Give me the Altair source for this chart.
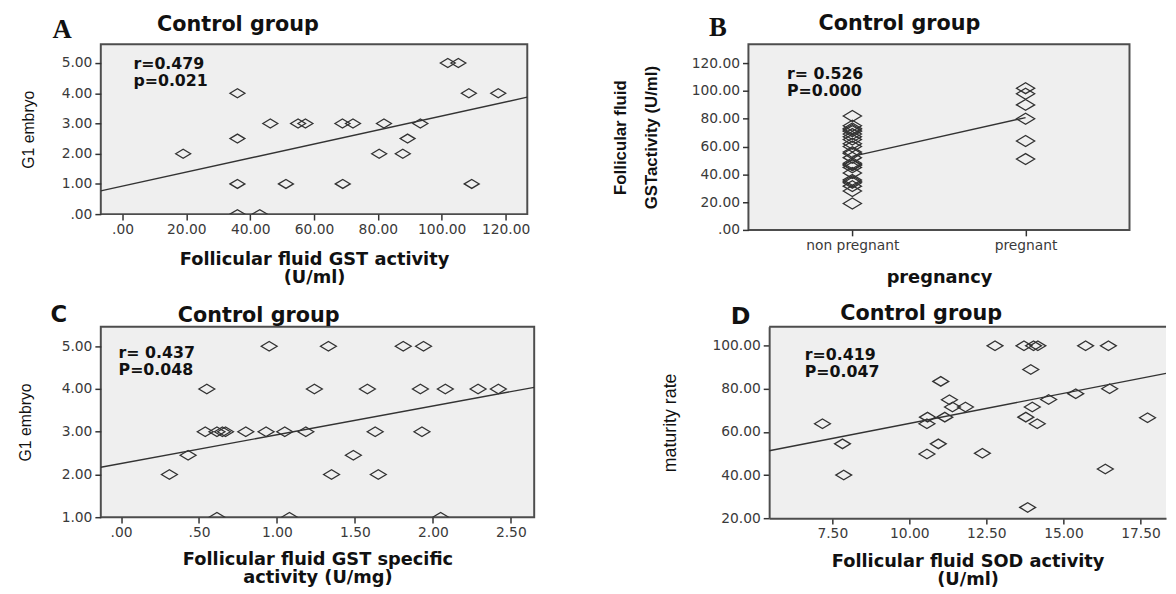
import altair as alt
import pandas as pd

# ---------------- data ----------------
A_X = [19, 36, 36, 36, 36, 43, 46.3, 51.2, 55, 57.3, 68.9, 72.2, 69, 80.4, 81.9,
       87.8, 89.3, 93.3, 101.9, 105.2, 108.5, 109.4, 117.7]
A_Y = [2, 4, 2.5, 1, 0, 0, 3, 1, 3, 3, 3, 3, 1, 2, 3, 2, 2.5, 3, 5, 5, 4, 1, 4]
A_FIT_X = [-6.8, 126.8]
A_FIT_Y = [0.77, 3.87]
A_XTICKS = [0, 20, 40, 60, 80, 100, 120]
A_YTICKS = [0, 1, 2, 3, 4, 5]
A_ANNOT = "r=0.479\np=0.021"

B_CATS = ["non pregnant", "pregnant"]
B_NONPREG = [82, 75, 73, 72, 71, 69, 67, 65, 62, 60, 56, 55, 52, 48, 47, 46.5,
             45, 41, 36, 35, 34, 31.5, 28, 19]
B_PREG = [102, 98, 90, 80, 64, 51]
B_YTICKS = [0, 20, 40, 60, 80, 100, 120]
B_ANNOT = "r= 0.526\nP=0.000"

C_X = [0.31, 0.43, 0.55, 0.54, 0.615, 0.65, 0.67, 0.80, 0.93, 1.05, 1.185, 0.95,
       1.33, 1.24, 1.58, 1.49, 1.35, 1.63, 1.65, 1.81, 1.94, 1.92, 2.08, 2.29,
       2.42, 1.93, 0.615, 1.08, 2.05]
C_Y = [2, 2.45, 4, 3, 3, 3, 3, 3, 3, 3, 3, 5, 5, 4, 4, 2.45, 2, 3, 2, 5, 5, 4,
       4, 4, 4, 3, 1, 1, 1]
C_FIT_X = [-0.13, 2.65]
C_FIT_Y = [2.17, 4.04]
C_XTICKS = [0, 0.5, 1, 1.5, 2, 2.5]
C_YTICKS = [1, 2, 3, 4, 5]
C_ANNOT = "r= 0.437\nP=0.048"

D_X = [7.18, 7.83, 7.87, 10.59, 10.57, 10.57, 10.94, 11.02, 11.3, 11.15, 11.4,
       11.82, 12.37, 12.78, 13.72, 14.03, 14.17, 13.94, 13.78, 13.99, 14.15,
       13.84, 14.52, 15.4, 15.72, 16.46, 16.5, 16.36, 17.73]
D_Y = [63.8, 54.5, 40, 66.9, 63.8, 49.8, 54.5, 83.5, 75, 66.9, 71.6, 71.6, 50.1,
       100, 100, 100, 100, 89, 66.9, 71.6, 63.8, 25, 75.1, 77.8, 100, 100, 80.1,
       42.8, 66.6]
D_FIT_X = [5.45, 18.33]
D_FIT_Y = [51.3, 87.2]
D_XTICKS = [7.5, 10, 12.5, 15, 17.5]
D_YTICKS = [20, 40, 60, 80, 100]
D_ANNOT = "r=0.419\nP=0.047"

TITLE = "Control group"

# ---------------- styling ----------------
DIAMOND = "M-1,0L0,-0.6L1,0L0,0.6Z"
INK = "#333333"
BORDER = "#4d4d4d"
LABEL_EXPR = ("abs(datum.value) < 1 ? slice(format(datum.value, '.2f'), 1) "
              ": format(datum.value, '.2f')")


def xq_axis(values, title, w, ty, lh, domain=False):
    return alt.Axis(values=values, labelExpr=LABEL_EXPR, title=title,
                    titleX=w / 2, titleY=ty, titleAlign="center",
                    titleBaseline="top", titleLineHeight=lh, titleAngle=0,
                    labelOverlap=False, domain=domain, domainColor=BORDER,
                    domainWidth=2)


def y_axis(values, title, h, tx, size, weight="normal", lh=20, domain=False):
    return alt.Axis(values=values, labelExpr=LABEL_EXPR, title=title,
                    titleX=tx, titleY=h / 2, titleAlign="center",
                    titleBaseline="bottom", titleAngle=-90,
                    titleFontSize=size, titleFontWeight=weight,
                    titleLineHeight=lh, labelOverlap=False, domain=domain,
                    domainColor=BORDER, domainWidth=2)


def text_layer(s, x, y, font, size, weight="bold", lh=17):
    return alt.Chart(pd.DataFrame({"t": [s]})).mark_text(
        font=font, fontSize=size, fontWeight=weight, align="left",
        baseline="alphabetic", color="#111111", lineBreak="\n", lineHeight=lh
    ).encode(text="t:N", x=alt.value(x), y=alt.value(y))


def scatter_layers(xs, ys, fx, fy, xdom, ydom, xt, yt, xtitle, ytitle,
                   w, h, x_ty, x_lh, y_tx, y_size, letter, letter_font,
                   letter_size, letter_pos, title_pos, annot, annot_pos,
                   size=260, domains=False):
    df = pd.DataFrame({"x": xs, "y": ys})
    fit = pd.DataFrame({"x": fx, "y": fy})
    X = alt.X("x:Q", scale=alt.Scale(domain=xdom, nice=False, zero=False),
              axis=xq_axis(xt, xtitle, w, x_ty, x_lh, domains))
    Y = alt.Y("y:Q", scale=alt.Scale(domain=ydom, nice=False, zero=False),
              axis=y_axis(yt, ytitle, h, y_tx, y_size, domain=domains))
    pts = alt.Chart(df).mark_point(
        shape=DIAMOND, size=size, filled=False, color=INK, strokeWidth=1.3,
        opacity=1, clip=True).encode(x=X, y=Y)
    line = alt.Chart(fit).mark_line(color=INK, strokeWidth=1.4, clip=True).encode(
        x=X, y=Y)
    return [
        pts, line,
        text_layer(letter, letter_pos[0], letter_pos[1], letter_font, letter_size),
        text_layer(TITLE, title_pos[0], title_pos[1], "DejaVu Sans", 21),
        text_layer(annot, annot_pos[0], annot_pos[1], "DejaVu Sans", 16, lh=17),
    ]


# Panel A
WA, HA = 432, 172
chart_a = alt.layer(*scatter_layers(
    A_X, A_Y, A_FIT_X, A_FIT_Y, [-6.8, 126.8], [0, 5.62], A_XTICKS, A_YTICKS,
    ["Follicular fluid GST activity", "(U/ml)"], "G1 embryo",
    WA, HA, 37, 18, -65, 16, "A", "Liberation Serif", 27, (-49, -6), (57, -13),
    A_ANNOT, (33, 25), size=230)).properties(width=WA, height=HA)

# Panel B
WB, HB = 386, 188
dfb = pd.DataFrame({
    "group": [B_CATS[0]] * len(B_NONPREG) + [B_CATS[1]] * len(B_PREG),
    "value": B_NONPREG + B_PREG,
})
XB = alt.X("group:N", sort=B_CATS,
           scale=alt.Scale(type="point", padding=0.6),
           axis=alt.Axis(labelAngle=0, title="pregnancy", titleX=WB / 2,
                         titleY=39, titleAlign="center", titleBaseline="top",
                         titleAngle=0, labelOverlap=False))
B_SCALE = alt.Scale(domain=[0, 133.6], nice=False, zero=False)
B_YAXIS = y_axis(B_YTICKS, ["Follicular fluid", "GSTactivity (U/ml)"],
                 HB, -121, 17, "bold", 32)
YB = alt.Y("value:Q", scale=B_SCALE, axis=B_YAXIS)
pts_b = alt.Chart(dfb).mark_point(
    shape=DIAMOND, size=340, filled=False, color=INK, strokeWidth=1.3,
    opacity=1, clip=True).encode(x=XB, y=YB)
line_b = alt.Chart(dfb).mark_line(color=INK, strokeWidth=1.4).encode(
    x=XB, y=alt.Y("mean(value):Q", scale=B_SCALE, axis=B_YAXIS))
chart_b = alt.layer(
    pts_b, line_b,
    text_layer("B", -40, -8, "Liberation Serif", 27),
    text_layer(TITLE, 71, -15, "DejaVu Sans", 21),
    text_layer(B_ANNOT, 39, 35, "DejaVu Sans", 16, lh=17),
).properties(width=WB, height=HB)

# Panel C
WC, HC = 439, 193
chart_c = alt.layer(*scatter_layers(
    C_X, C_Y, C_FIT_X, C_FIT_Y, [-0.13, 2.65], [1, 5.46], C_XTICKS, C_YTICKS,
    ["Follicular fluid GST specific", "activity (U/mg)"], "G1 embryo",
    WC, HC, 34, 18, -68, 16, "C", "DejaVu Sans", 23, (-51, -5), (78, -5),
    C_ANNOT, (18, 32))).properties(width=WC, height=HC)

# Panel D (right edge runs off the picture: no right border)
WD, HD = 402, 194
d_layers = scatter_layers(
    D_X, D_Y, D_FIT_X, D_FIT_Y, [5.45, 18.33], [20, 108.9], D_XTICKS, D_YTICKS,
    ["Follicular fluid SOD activity", "(U/ml)"], "maturity rate",
    WD, HD, 35, 18, -91, 18, "D", "DejaVu Sans", 24, (-39, -3), (72, -7),
    D_ANNOT, (36, 34), domains=True)
top_edge = alt.Chart(pd.DataFrame({"t": [0]})).mark_rule(
    color=BORDER, strokeWidth=2).encode(
    x=alt.value(0), x2=alt.value(WD), y=alt.value(0))
chart_d = alt.layer(*d_layers, top_edge).properties(
    width=WD, height=HD,
    view=alt.ViewBackground(stroke="transparent", fill="#efefef"))

top = alt.hconcat(chart_a, chart_b, spacing=224, bounds="flush")
bottom = alt.hconcat(chart_c, chart_d, spacing=238, bounds="flush")

chart = alt.vconcat(top, bottom, spacing=15).properties(
    padding={"left": 9, "top": 0, "right": 0, "bottom": 0}
).configure_view(
    fill="#efefef", stroke=BORDER, strokeWidth=2
).configure_axis(
    domain=False, grid=False, ticks=True, tickSize=6, tickWidth=1.5,
    tickColor=INK, labelFont="DejaVu Sans", labelFontSize=14,
    labelColor="#3a3a3a", labelPadding=3, titleColor="#111111",
    labelOverlap=False
).configure_axisX(
    titleFont="DejaVu Sans", titleFontWeight="bold", titleFontSize=18
).configure_axisY(
    titleFont="Liberation Sans"
)

chart.save("out.html", embed_options={"renderer": "svg", "actions": False})
